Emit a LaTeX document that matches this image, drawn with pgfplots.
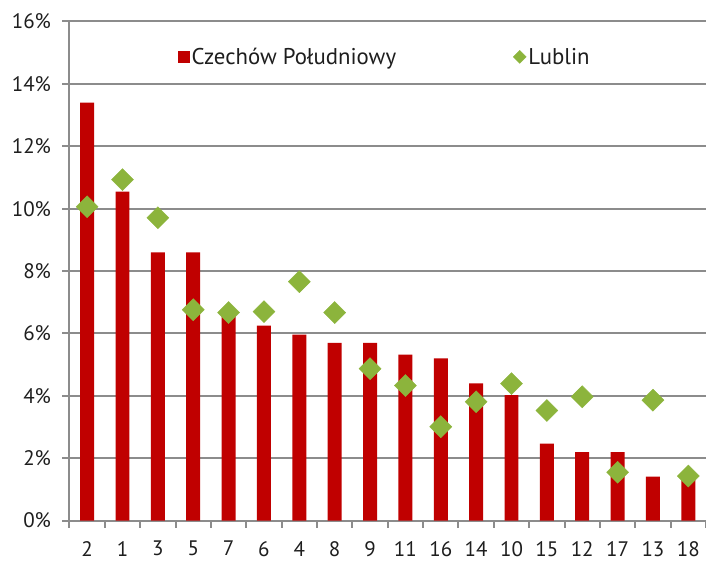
\documentclass[border=0pt]{standalone}
\usepackage{pgfplots}
\pgfplotsset{compat=1.18}
\usepackage{fontspec}
\setmainfont{PT Sans}
\definecolor{barred}{HTML}{C00000}
\definecolor{dgreen}{HTML}{8CB43C}
\definecolor{gridgray}{HTML}{8C8C8C}
\definecolor{txt}{HTML}{1E1E1E}
\begin{document}
\begin{tikzpicture}
\begin{axis}[
  scale only axis,
  width=637pt, height=499.5pt,
  xmin=-0.5, xmax=17.5,
  ymin=0, ymax=16,
  ytick={0,2,...,16},
  yticklabel={\pgfmathprintnumber{\tick}\%},
  /pgf/number format/assume math mode=true,
  xtick={0,...,17},
  xticklabels={2,1,3,5,7,6,4,8,9,11,16,14,10,15,12,17,13,18},
  minor xtick={-0.5,0.5,...,17.5},
  major x tick style={draw=none},
  minor x tick style={draw=gridgray, line width=2pt},
  major y tick style={draw=gridgray, line width=2pt},
  tick align=outside,
  major tick length=7pt,
  minor tick length=7pt,
  ymajorgrids,
  grid style={draw=gridgray, line width=2pt},
  axis x line*=bottom,
  axis y line*=left,
  axis line style={draw=gridgray, line width=2pt, -},
  tick label style={font=\fontsize{21}{24}\selectfont, text=txt},
  yticklabel style={xshift=-8pt},
  xticklabel style={yshift=-10pt},
  legend columns=2,
  legend style={at={(rel axis cs:0.165,0.929)}, anchor=west, draw=none, fill=none,
    font=\fontsize{22.8}{26}\selectfont, text=txt,
    /tikz/every even column/.append style={column sep=115pt}},
  legend cell align=left,
]
\addplot[ybar, bar width=14pt, fill=barred, draw=none,
  legend image code/.code={\fill[barred] (0pt,-6pt) rectangle (12pt,6pt);}]
  coordinates {(0,13.4) (1,10.55) (2,8.6) (3,8.6) (4,6.6) (5,6.25) (6,5.96) (7,5.7) (8,5.7)
  (9,5.32) (10,5.2) (11,4.4) (12,4.02) (13,2.47) (14,2.2) (15,2.2) (16,1.41) (17,1.45)};
\addlegendentry{Czechów Południowy}
\addplot[dgreen, only marks, mark=square*, mark size=7.8pt, mark options={rotate=45, fill=dgreen, draw=none},
  legend image code/.code={\fill[dgreen] (0pt,0pt) -- (6.5pt,6.5pt) -- (13pt,0pt) -- (6.5pt,-6.5pt) -- cycle;}]
  coordinates {(0,10.06) (1,10.93) (2,9.71) (3,6.76) (4,6.67) (5,6.7) (6,7.66) (7,6.67) (8,4.87)
  (9,4.33) (10,3.01) (11,3.81) (12,4.39) (13,3.53) (14,3.97) (15,1.55) (16,3.86) (17,1.43)};
\addlegendentry{Lublin}
\end{axis}
\pgfresetboundingbox
\path[use as bounding box] ([shift={(-69.5pt,-42pt)}]current axis.south west) rectangle ([shift={(0pt,21.5pt)}]current axis.north east);
\end{tikzpicture}
\end{document}
